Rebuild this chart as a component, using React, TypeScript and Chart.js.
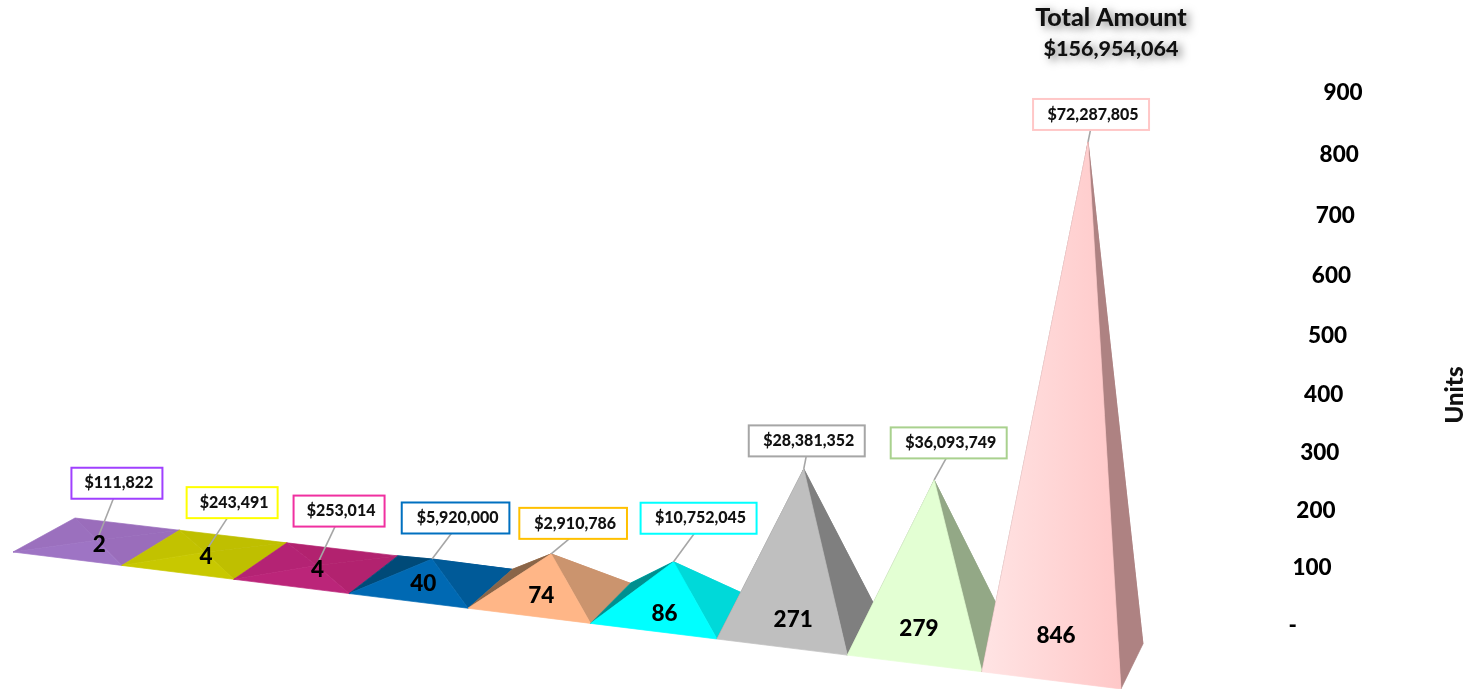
import React, { useEffect, useRef } from "react";
import { Chart, registerables, BarController, LinearScale } from "chart.js";

// ---------- data ----------
const categories = ["1", "2", "3", "4", "5", "6", "7", "8", "9"];
const units = [2, 4, 4, 40, 74, 86, 271, 279, 846];
const amounts = [111822, 243491, 253014, 5920000, 2910786, 10752045, 28381352, 36093749, 72287805];
const totalAmount = 156954064;

// ---------- styles ----------
const frontColors = ["#9E74C4", "#C8C800", "#BB2579", "#0069B3", "#FFB687", "#00FFFF", "#BFBFBF", "#E3FFD3", "#FFE4E4"];
const frontEndColors = ["#9E74C4", "#C8C800", "#BB2579", "#0069B3", "#FFB687", "#00FFFF", "#BFBFBF", "#E3FFD3", "#FFC8C8"];
const rightColors = ["#9A6DBB", "#BFBF00", "#B2226F", "#005A98", "#CB946E", "#00D9D9", "#7F7F7F", "#93A886", "#AE8282"];
const leftColors = ["#9B70BE", "#C2C200", "#B42374", "#004A78", "#8A6548", "#008F8F", "#7F7F7F", "#93A886", "#AE8282"];
const boxBorderColors = ["#A040FF", "#FFFF00", "#F030A0", "#0070C0", "#FFC000", "#00FFFF", "#A6A6A6", "#A9D18E", "#FFC7C7"];
const boxOffsets = [[20, -57], [27, -49.5], [22.5, -54.5], [23.5, -41], [22, -30.5], [25, -43.5], [3, -28], [14.5, -37], [3, -27.5]];
const unitLabelNudges = [[2.5, 3], [1, 2], [1, 2], [-8, 2], [-8.5, 0], [-7.5, 2.5], [-5, -6], [-9.5, -13], [-7, -22]];
const FONT = "Lato, 'Open Sans', sans-serif";

// ---------- perspective projection of the plot plane ----------
function frontEdge(t: number, left: number, bottom: number) {
  const dx = (107.24 * t) / (1 - 0.01432 * t);
  return { x: left + dx, y: bottom - 73 + 0.1236 * dx };
}
function ground(t: number, v: number, left: number, bottom: number) {
  const p = frontEdge(t, left, bottom);
  return { x: p.x + v * (62 - (40 * t) / 9), y: p.y - v * (34 + (11 * t) / 9) };
}
function apexOf(t: number, worldH: number, left: number, bottom: number) {
  const c = ground(t, 0.5, left, bottom);
  const h = worldH * (0.955 + worldH * 1.5e-4);
  return { x: c.x + 0.03 * h + 3.6e-5 * h * h, y: c.y - h };
}

class PyramidController extends BarController {
  static id = "pyramid";
  static defaults = BarController.defaults;
  static overrides = BarController.overrides;
  draw() {
    const ctx = this.chart.ctx;
    const area = this.chart.chartArea;
    const meta = this.getMeta();
    const ds: any = this.getDataset();
    const step = area.width / meta.data.length;
    meta.data.forEach((el: any, i: number) => {
      const t = (el.x - area.left) / step - 0.5;
      const fl = ground(t, 0, area.left, area.bottom);
      const fr = ground(t + 1, 0, area.left, area.bottom);
      const br = ground(t + 1, 1, area.left, area.bottom);
      const bl = ground(t, 1, area.left, area.bottom);
      const apex = apexOf(t + 0.5, el.base - el.y, area.left, area.bottom);
      const face = (pts: any[], fill: any) => {
        ctx.beginPath();
        pts.forEach((p, k) => (k ? ctx.lineTo(p.x, p.y) : ctx.moveTo(p.x, p.y)));
        ctx.closePath();
        ctx.fillStyle = fill;
        ctx.strokeStyle = fill;
        ctx.lineWidth = 0.7;
        ctx.fill();
        ctx.stroke();
      };
      face([bl, br, apex], ds.rightColors[i]);
      face([fl, bl, apex], ds.leftColors[i]);
      face([fr, br, apex], ds.rightColors[i]);
      const g = ctx.createLinearGradient(fl.x, 0, fr.x, 0);
      g.addColorStop(0, ds.backgroundColor[i]);
      g.addColorStop(1, ds.frontEndColors[i]);
      face([fl, fr, apex], g);
    });
  }
}

class SkewedLinearScale extends LinearScale {
  static id = "skewedLinear";
  static defaults = LinearScale.defaults;
  _computeLabelItems(chartArea: any) {
    const items = (LinearScale.prototype as any)._computeLabelItems.call(this, chartArea);
    const bottom = (this as any).bottom;
    items.forEach((item: any, i: number) => {
      const v = (this as any).ticks[i].value;
      const worldH = bottom - (this as any).getPixelForValue(v);
      const h = worldH * (0.94 + worldH * 1.05e-4);
      item.options.textAlign = "left";
      item.options.translation = [1288.6 + v * 0.03875, bottom - h - (v === 0 ? -1 : 1.5)];
    });
    return items;
  }
}

const labelsPlugin = {
  id: "pyramidLabels",
  afterDatasetsDraw(chart: any) {
    const { ctx, chartArea: area } = chart;
    const meta = chart.getDatasetMeta(0);
    const step = area.width / meta.data.length;
    ctx.save();
    meta.data.forEach((el: any, i: number) => {
      const t = (el.x - area.left) / step;
      const apex = apexOf(t, el.base - el.y, area.left, area.bottom);
      const text = "$" + amounts[i].toLocaleString("en-US");
      ctx.font = `900 16px ${FONT}`;
      const w = 91 + (text.length - 8) * 8.33;
      const h = 31;
      const cx = apex.x + boxOffsets[i][0];
      const cy = apex.y + boxOffsets[i][1];
      ctx.strokeStyle = "#A6A6A6";
      ctx.lineWidth = 1.6;
      ctx.beginPath();
      ctx.moveTo(cx + (apex.x - cx) * 0.18, cy + h / 2);
      ctx.lineTo(apex.x, apex.y);
      ctx.stroke();
      ctx.fillStyle = "#FFFFFF";
      ctx.fillRect(cx - w / 2, cy - h / 2, w, h);
      ctx.strokeStyle = boxBorderColors[i];
      ctx.lineWidth = 2;
      ctx.strokeRect(cx - w / 2, cy - h / 2, w, h);
      ctx.fillStyle = "#111111";
      ctx.textAlign = "center";
      ctx.textBaseline = "middle";
      ctx.fillText(text, cx + 2, cy);
      const c = ground(t, 0.5, area.left, area.bottom);
      ctx.font = `900 22.5px ${FONT}`;
      ctx.fillStyle = "#000000";
      ctx.fillText(String(units[i]), c.x + unitLabelNudges[i][0], c.y + unitLabelNudges[i][1]);
    });
    // total, with its soft shadow
    ctx.save();
    ctx.shadowColor = "rgba(0,0,0,0.5)";
    ctx.shadowBlur = 9;
    ctx.shadowOffsetX = 4;
    ctx.shadowOffsetY = 3;
    ctx.fillStyle = "#111111";
    ctx.font = `900 25px ${FONT}`;
    ctx.fillText("Total Amount", 1111, 18);
    ctx.font = `900 21.5px ${FONT}`;
    ctx.fillText("$" + totalAmount.toLocaleString("en-US"), 1111, 49);
    ctx.restore();
    // axis title
    ctx.translate(1455, 395);
    ctx.rotate(-Math.PI / 2);
    ctx.fillStyle = "#111111";
    ctx.font = `900 24px ${FONT}`;
    ctx.fillText("Units", 0, 0);
    ctx.restore();
  },
};

Chart.register(...registerables, PyramidController, SkewedLinearScale);

export default function App() {
  const ref = useRef<HTMLCanvasElement>(null);
  useEffect(() => {
    const chart = new Chart(ref.current!, {
      type: "pyramid" as any,
      plugins: [labelsPlugin],
      data: {
        labels: categories,
        datasets: [
          {
            label: "Units",
            data: units,
            clip: false,
            backgroundColor: frontColors,
            frontEndColors,
            rightColors,
            leftColors,
          } as any,
        ],
      },
      options: {
        animation: false,
        responsive: false,
        layout: { padding: { left: 13, top: 92, right: 0, bottom: 64 } },
        plugins: { legend: { display: false }, tooltip: { enabled: false }, title: { display: false } },
        scales: {
          x: { type: "category", display: false, offset: true, grid: { display: false } },
          y: {
            type: "skewedLinear" as any,
            position: "right",
            min: 0,
            max: 900,
            afterFit: (s: any) => {
              s.width = 356;
            },
            grid: { display: false },
            border: { display: false },
            ticks: {
              stepSize: 100,
              color: "#000000",
              font: { family: FONT, size: 22.5, weight: "900" },
              callback: (v: any) => (v === 0 ? "-" : String(v)),
            },
          },
        },
      } as any,
    });
    return () => chart.destroy();
  }, []);
  return (
    <div style={{ position: "absolute", left: 0, top: 0, width: 1477, height: 689, background: "#fff" }}>
      <canvas ref={ref} width={1477} height={689} style={{ display: "block" }} />
    </div>
  );
}
